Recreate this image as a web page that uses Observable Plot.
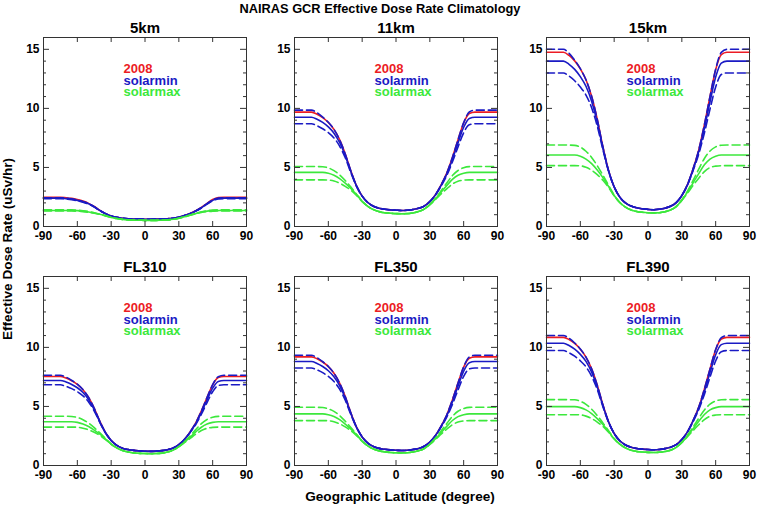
<!DOCTYPE html>
<html><head><meta charset="utf-8">
<script src="https://cdn.jsdelivr.net/npm/d3@7"></script>
<script src="https://cdn.jsdelivr.net/npm/@observablehq/plot@0.6"></script>
<style>
body{margin:0;background:#fff;}
#wrap{position:relative;width:757px;height:507px;overflow:hidden;font-family:"Liberation Sans",Arial,Helvetica,sans-serif;font-weight:bold;color:#000;background:#fff;}
.pan{position:absolute;}
#title{position:absolute;left:0;width:760px;top:1px;line-height:16px;text-align:center;font-size:12.8px;z-index:5;}
#xlab{position:absolute;left:250px;width:300px;top:489px;line-height:16px;text-align:center;font-size:13.6px;z-index:5;}
#ylab{position:absolute;left:-102px;top:241px;width:220px;height:16px;line-height:16px;text-align:center;font-size:13.6px;transform:rotate(-90deg);z-index:5;white-space:nowrap;}
</style></head>
<body>
<div id="wrap">
  <div id="title">NAIRAS GCR Effective Dose Rate Climatology</div>
  <div id="ylab">Effective Dose Rate (uSv/hr)</div>
  <div id="xlab">Geographic Latitude (degree)</div>
</div>
<script>
const lat = [-90,-85,-80,-75,-70,-65,-60,-55,-50,-45,-40,-35,-30,-25,-20,-15,-10,-5,0,5,10,15,20,25,30,35,40,45,50,55,60,65,70,75,80,85,90];
const panelTitles = ["5km","11km","15km","FL310","FL350","FL390"];
const seriesNames = ["2008","solarmin","solarmax"];
const seriesColors = ["#ec1c24","#1a1ac4","#3ce83c"];
const xTicks = [-90,-60,-30,0,30,60,90];
const yTicks = [0,5,10,15];
const yMinorTicks = [1,2,3,4,6,7,8,9,11,12,13,14];

// 5km
const r5  = [2.48,2.48,2.48,2.48,2.44,2.38,2.28,2.15,1.96,1.69,1.36,1.09,0.89,0.77,0.70,0.66,0.64,0.63,0.62,0.62,0.63,0.64,0.66,0.70,0.79,0.92,1.10,1.33,1.62,1.96,2.28,2.45,2.48,2.48,2.48,2.48,2.48];
const bs5 = [2.40,2.40,2.40,2.40,2.36,2.30,2.21,2.09,1.92,1.66,1.35,1.09,0.89,0.77,0.70,0.66,0.64,0.63,0.62,0.62,0.63,0.64,0.66,0.70,0.79,0.92,1.09,1.31,1.59,1.91,2.21,2.37,2.40,2.40,2.40,2.40,2.40];
const bu5 = [2.44,2.44,2.44,2.44,2.40,2.34,2.24,2.12,1.94,1.68,1.35,1.09,0.89,0.77,0.70,0.66,0.64,0.63,0.62,0.62,0.63,0.64,0.66,0.70,0.79,0.92,1.10,1.32,1.61,1.94,2.25,2.41,2.44,2.44,2.44,2.44,2.44];
const bl5 = [2.36,2.36,2.36,2.36,2.32,2.26,2.17,2.06,1.89,1.65,1.34,1.09,0.89,0.77,0.70,0.66,0.64,0.63,0.62,0.62,0.63,0.64,0.66,0.70,0.79,0.92,1.09,1.31,1.57,1.89,2.18,2.33,2.36,2.36,2.36,2.36,2.36];
const gs5 = [1.36,1.36,1.36,1.36,1.36,1.36,1.34,1.30,1.23,1.14,1.03,0.91,0.77,0.67,0.60,0.56,0.54,0.53,0.52,0.52,0.52,0.54,0.56,0.61,0.70,0.82,0.96,1.09,1.22,1.30,1.34,1.36,1.36,1.36,1.36,1.36,1.36];
const gu5 = [1.41,1.41,1.41,1.41,1.41,1.41,1.39,1.34,1.26,1.16,1.04,0.92,0.77,0.67,0.60,0.56,0.54,0.53,0.52,0.52,0.52,0.54,0.56,0.61,0.70,0.83,0.97,1.11,1.25,1.34,1.39,1.41,1.41,1.41,1.41,1.41,1.41];
const gl5 = [1.31,1.31,1.31,1.31,1.31,1.31,1.30,1.26,1.20,1.12,1.02,0.90,0.77,0.67,0.60,0.56,0.54,0.53,0.52,0.52,0.52,0.54,0.56,0.61,0.70,0.81,0.95,1.07,1.19,1.26,1.29,1.31,1.31,1.31,1.31,1.31,1.31];

// 11km
const r11  = [9.68,9.68,9.68,9.68,9.51,9.22,8.81,8.22,7.35,6.14,4.69,3.44,2.57,2.03,1.72,1.55,1.46,1.41,1.38,1.36,1.38,1.44,1.54,1.73,2.11,2.69,3.52,4.52,5.85,7.35,8.76,9.56,9.68,9.68,9.68,9.68,9.68];
const bs11 = [9.25,9.25,9.25,9.25,9.08,8.81,8.43,7.90,7.11,6.00,4.63,3.42,2.57,2.03,1.72,1.55,1.46,1.41,1.38,1.36,1.38,1.44,1.54,1.73,2.11,2.68,3.48,4.43,5.68,7.08,8.40,9.15,9.25,9.25,9.25,9.25,9.25];
const bu11 = [9.85,9.85,9.85,9.85,9.63,9.26,8.82,8.22,7.35,6.14,4.69,3.44,2.57,2.03,1.72,1.55,1.46,1.41,1.38,1.36,1.38,1.44,1.54,1.73,2.11,2.69,3.52,4.52,5.85,7.35,8.79,9.69,9.85,9.85,9.85,9.85,9.85];
const bl11 = [8.70,8.70,8.70,8.70,8.53,8.28,7.95,7.50,6.81,5.82,4.55,3.40,2.57,2.03,1.72,1.55,1.46,1.41,1.38,1.36,1.38,1.44,1.54,1.73,2.11,2.66,3.43,4.32,5.46,6.74,7.94,8.62,8.70,8.70,8.70,8.70,8.70];
const gs11 = [4.58,4.58,4.58,4.58,4.58,4.58,4.51,4.34,4.06,3.67,3.22,2.69,2.13,1.71,1.43,1.26,1.16,1.12,1.09,1.08,1.09,1.15,1.26,1.47,1.85,2.34,2.90,3.46,3.99,4.34,4.51,4.58,4.58,4.58,4.58,4.58,4.58];
const gu11 = [5.08,5.08,5.08,5.08,5.07,5.06,4.96,4.73,4.37,3.89,3.34,2.74,2.15,1.71,1.43,1.26,1.16,1.12,1.09,1.08,1.09,1.15,1.26,1.47,1.87,2.39,3.02,3.68,4.31,4.74,4.98,5.07,5.08,5.08,5.08,5.08,5.08];
const gl11 = [3.95,3.95,3.95,3.95,3.95,3.95,3.93,3.85,3.67,3.40,3.07,2.63,2.11,1.71,1.43,1.26,1.16,1.12,1.09,1.08,1.09,1.15,1.26,1.47,1.83,2.28,2.75,3.19,3.59,3.84,3.92,3.95,3.95,3.95,3.95,3.95,3.95];

// 15km
const r15  = [14.75,14.75,14.75,14.75,14.48,14.02,13.35,12.42,11.02,9.08,6.75,4.75,3.35,2.49,1.99,1.73,1.58,1.50,1.45,1.42,1.46,1.55,1.71,2.02,2.62,3.55,4.89,6.49,8.62,11.02,13.28,14.55,14.75,14.75,14.75,14.75,14.75];
const bs15 = [14.00,14.00,14.00,14.00,13.73,13.30,12.69,11.87,10.61,8.83,6.65,4.72,3.35,2.49,1.99,1.73,1.58,1.50,1.45,1.42,1.46,1.55,1.71,2.02,2.62,3.53,4.82,6.34,8.32,10.56,12.65,13.83,14.00,14.00,14.00,14.00,14.00];
const bu15 = [15.00,15.00,15.00,15.00,14.66,14.08,13.36,12.42,11.02,9.08,6.75,4.75,3.35,2.49,1.99,1.73,1.58,1.50,1.45,1.42,1.46,1.55,1.71,2.02,2.62,3.55,4.89,6.49,8.62,11.02,13.32,14.74,15.00,15.00,15.00,15.00,15.00];
const bl15 = [13.00,13.00,13.00,13.00,12.73,12.34,11.81,11.13,10.06,8.50,6.51,4.68,3.35,2.49,1.99,1.73,1.58,1.50,1.45,1.42,1.46,1.55,1.71,2.02,2.62,3.50,4.73,6.14,7.92,9.94,11.81,12.87,13.00,13.00,13.00,13.00,13.00];
const gs15 = [6.05,6.05,6.05,6.05,6.05,6.05,5.95,5.71,5.32,4.78,4.14,3.40,2.62,2.03,1.64,1.40,1.27,1.20,1.16,1.15,1.17,1.25,1.40,1.69,2.23,2.91,3.70,4.48,5.22,5.71,5.95,6.05,6.05,6.05,6.05,6.05,6.05];
const gu15 = [6.90,6.90,6.90,6.90,6.89,6.87,6.72,6.37,5.85,5.15,4.34,3.49,2.65,2.03,1.64,1.40,1.27,1.20,1.16,1.15,1.17,1.25,1.40,1.69,2.26,3.00,3.90,4.85,5.76,6.39,6.74,6.88,6.90,6.90,6.90,6.90,6.90];
const gl15 = [5.15,5.15,5.15,5.15,5.15,5.15,5.14,5.01,4.76,4.39,3.92,3.31,2.59,2.03,1.64,1.40,1.27,1.20,1.16,1.15,1.17,1.25,1.40,1.69,2.20,2.82,3.48,4.09,4.65,4.99,5.11,5.15,5.15,5.15,5.15,5.15,5.15];

// FL310
const r310  = [7.53,7.53,7.53,7.53,7.40,7.18,6.87,6.42,5.76,4.84,3.73,2.78,2.12,1.71,1.47,1.35,1.28,1.24,1.21,1.20,1.22,1.26,1.34,1.48,1.77,2.21,2.85,3.61,4.62,5.76,6.83,7.44,7.53,7.53,7.53,7.53,7.53];
const bs310 = [7.20,7.20,7.20,7.20,7.07,6.86,6.58,6.18,5.58,4.73,3.68,2.77,2.12,1.71,1.47,1.35,1.28,1.24,1.21,1.20,1.22,1.26,1.34,1.48,1.77,2.20,2.82,3.54,4.49,5.56,6.55,7.12,7.20,7.20,7.20,7.20,7.20];
const bu310 = [7.64,7.64,7.64,7.64,7.48,7.21,6.88,6.42,5.76,4.84,3.73,2.78,2.12,1.71,1.47,1.35,1.28,1.24,1.21,1.20,1.22,1.26,1.34,1.48,1.77,2.21,2.85,3.61,4.62,5.76,6.85,7.52,7.64,7.64,7.64,7.64,7.64];
const bl310 = [6.83,6.83,6.83,6.83,6.70,6.51,6.25,5.90,5.38,4.61,3.63,2.75,2.12,1.71,1.47,1.35,1.28,1.24,1.21,1.20,1.22,1.26,1.34,1.48,1.77,2.19,2.79,3.47,4.34,5.33,6.24,6.77,6.83,6.83,6.83,6.83,6.83];
const gs310 = [3.70,3.70,3.70,3.70,3.70,3.70,3.65,3.51,3.30,3.00,2.65,2.24,1.81,1.49,1.27,1.14,1.06,1.03,1.01,1.00,1.01,1.05,1.14,1.30,1.59,1.97,2.40,2.84,3.24,3.51,3.65,3.70,3.70,3.70,3.70,3.70,3.70];
const gu310 = [4.17,4.17,4.17,4.17,4.17,4.15,4.07,3.88,3.59,3.20,2.76,2.29,1.82,1.49,1.27,1.14,1.06,1.03,1.01,1.00,1.01,1.05,1.14,1.30,1.60,2.02,2.51,3.04,3.54,3.89,4.09,4.16,4.17,4.17,4.17,4.17,4.17];
const gl310 = [3.25,3.25,3.25,3.25,3.25,3.25,3.24,3.16,3.02,2.81,2.54,2.20,1.80,1.49,1.27,1.14,1.06,1.03,1.01,1.00,1.01,1.05,1.14,1.30,1.58,1.93,2.29,2.65,2.96,3.15,3.23,3.25,3.25,3.25,3.25,3.25,3.25];

// FL350
const r350  = [9.20,9.20,9.20,9.20,9.04,8.76,8.37,7.81,6.98,5.83,4.44,3.25,2.42,1.90,1.61,1.45,1.37,1.32,1.29,1.27,1.29,1.35,1.44,1.63,1.98,2.54,3.33,4.28,5.55,6.98,8.33,9.08,9.20,9.20,9.20,9.20,9.20];
const bs350 = [8.80,8.80,8.80,8.80,8.64,8.38,8.02,7.51,6.76,5.70,4.38,3.23,2.42,1.90,1.61,1.45,1.37,1.32,1.29,1.27,1.29,1.35,1.44,1.63,1.98,2.53,3.29,4.20,5.39,6.73,7.99,8.70,8.80,8.80,8.80,8.80,8.80];
const bu350 = [9.33,9.33,9.33,9.33,9.13,8.79,8.38,7.81,6.98,5.83,4.44,3.25,2.42,1.90,1.61,1.45,1.37,1.32,1.29,1.27,1.29,1.35,1.44,1.63,1.98,2.54,3.33,4.28,5.55,6.98,8.35,9.18,9.33,9.33,9.33,9.33,9.33];
const bl350 = [8.26,8.26,8.26,8.26,8.10,7.86,7.54,7.11,6.46,5.52,4.31,3.21,2.42,1.90,1.61,1.45,1.37,1.32,1.29,1.27,1.29,1.35,1.44,1.63,1.98,2.51,3.25,4.09,5.17,6.40,7.54,8.18,8.26,8.26,8.26,8.26,8.26];
const gs350 = [4.37,4.37,4.37,4.37,4.37,4.37,4.30,4.14,3.88,3.51,3.08,2.59,2.06,1.66,1.40,1.24,1.15,1.10,1.08,1.07,1.08,1.14,1.24,1.43,1.80,2.26,2.79,3.31,3.81,4.14,4.30,4.37,4.37,4.37,4.37,4.37,4.37];
const gu350 = [4.93,4.93,4.93,4.93,4.92,4.91,4.80,4.58,4.23,3.75,3.21,2.65,2.08,1.66,1.40,1.24,1.15,1.10,1.08,1.07,1.08,1.14,1.24,1.43,1.82,2.32,2.92,3.55,4.16,4.59,4.82,4.92,4.93,4.93,4.93,4.93,4.93];
const gl350 = [3.80,3.80,3.80,3.80,3.80,3.80,3.79,3.70,3.53,3.27,2.94,2.53,2.04,1.66,1.40,1.24,1.15,1.10,1.08,1.07,1.08,1.14,1.24,1.43,1.78,2.20,2.65,3.07,3.45,3.68,3.77,3.80,3.80,3.80,3.80,3.80,3.80];

// FL390
const r390  = [10.85,10.85,10.85,10.85,10.66,10.33,9.85,9.18,8.18,6.80,5.14,3.71,2.71,2.09,1.74,1.55,1.44,1.39,1.35,1.33,1.36,1.43,1.54,1.76,2.19,2.85,3.81,4.95,6.47,8.18,9.80,10.71,10.85,10.85,10.85,10.85,10.85];
const bs390 = [10.35,10.35,10.35,10.35,10.16,9.85,9.41,8.81,7.91,6.64,5.07,3.69,2.71,2.09,1.74,1.55,1.44,1.39,1.35,1.33,1.36,1.43,1.54,1.76,2.19,2.84,3.77,4.85,6.27,7.87,9.38,10.23,10.35,10.35,10.35,10.35,10.35];
const bu390 = [11.00,11.00,11.00,11.00,10.77,10.37,9.86,9.18,8.18,6.80,5.14,3.71,2.71,2.09,1.74,1.55,1.44,1.39,1.35,1.33,1.36,1.43,1.54,1.76,2.19,2.85,3.81,4.95,6.47,8.18,9.82,10.82,11.00,11.00,11.00,11.00,11.00];
const bl390 = [9.73,9.73,9.73,9.73,9.54,9.26,8.86,8.35,7.56,6.43,4.98,3.67,2.71,2.09,1.74,1.55,1.44,1.39,1.35,1.33,1.36,1.43,1.54,1.76,2.19,2.82,3.71,4.73,6.02,7.49,8.86,9.64,9.73,9.73,9.73,9.73,9.73];
const gs390 = [4.98,4.98,4.98,4.98,4.98,4.98,4.90,4.71,4.40,3.97,3.47,2.88,2.26,1.80,1.49,1.29,1.19,1.14,1.11,1.10,1.12,1.18,1.29,1.53,1.95,2.50,3.12,3.74,4.32,4.71,4.90,4.98,4.98,4.98,4.98,4.98,4.98];
const gu390 = [5.58,5.58,5.58,5.58,5.57,5.56,5.44,5.18,4.77,4.23,3.61,2.94,2.28,1.80,1.49,1.29,1.19,1.14,1.11,1.10,1.12,1.18,1.29,1.53,1.97,2.56,3.26,4.00,4.70,5.19,5.46,5.57,5.58,5.58,5.58,5.58,5.58];
const gl390 = [4.30,4.30,4.30,4.30,4.30,4.30,4.29,4.18,3.98,3.68,3.31,2.81,2.24,1.80,1.49,1.29,1.19,1.14,1.11,1.10,1.12,1.18,1.29,1.53,1.93,2.43,2.96,3.45,3.89,4.17,4.27,4.30,4.30,4.30,4.30,4.30,4.30];

const panelSeries = [
  [r5,bs5,bu5,bl5,gs5,gu5,gl5],
  [r11,bs11,bu11,bl11,gs11,gu11,gl11],
  [r15,bs15,bu15,bl15,gs15,gu15,gl15],
  [r310,bs310,bu310,bl310,gs310,gu310,gl310],
  [r350,bs350,bu350,bl350,gs350,gu350,gl350],
  [r390,bs390,bu390,bl390,gs390,gu390,gl390]
];
// which legend entry (colour) and dashing for each of the 7 curves
const curveColorIndex = [0,1,1,1,2,2,2];
const curveDashed = [false,false,true,true,false,true,true];

// layout
const frameLeft = [43, 294, 546];
const frameTop = [37, 276];
const W = 203, H = 189;
const ML = 30, MR = 6, MT = 30, MB = 20;
const fontFam = '"Liberation Sans", Arial, Helvetica, sans-serif';
const axisColor = "#333";

const wrap = document.getElementById("wrap");

panelTitles.forEach((title, p) => {
  const col = p % 3, row = Math.floor(p / 3);
  const curves = panelSeries[p];
  const lineMarks = curves.map((vals, k) => {
    const rows = lat.map((la, i) => ({lat: la, v: vals[i]}));
    return Plot.line(rows, {
      x: "lat", y: "v",
      stroke: seriesColors[curveColorIndex[k]],
      strokeWidth: 1.6,
      strokeDasharray: curveDashed[k] ? "8,4" : null,
      curve: "monotone-x"
    });
  });
  const legendMarks = seriesNames.map((name, i) => Plot.text([name], {
    frameAnchor: "top-left", dx: 80, dy: 31.3 + i * 11.7,
    text: d => d, fill: seriesColors[i], textAnchor: "start", lineAnchor: "middle",
    fontSize: 13, fontWeight: "bold"
  }));
  const inner = xTicks.slice(1, -1);
  const chart = Plot.plot({
    width: ML + W + MR, height: MT + H + MB,
    marginLeft: ML, marginRight: MR, marginTop: MT, marginBottom: MB,
    x: {domain: [-90, 90]},
    y: {domain: [0, 16]},
    style: {background: "transparent", fontFamily: fontFam, fontWeight: "bold", fontSize: "12px", overflow: "visible", color: "#000"},
    marks: [
      ...lineMarks,
      Plot.frame({stroke: axisColor, strokeWidth: 1}),
      Plot.tickX(inner, {x: d => d, insetTop: H - 5, stroke: axisColor}),
      Plot.tickX(inner, {x: d => d, insetBottom: H - 5, stroke: axisColor}),
      Plot.tickY(yTicks, {y: d => d, insetRight: W - 6, stroke: axisColor}),
      Plot.tickY(yTicks, {y: d => d, insetLeft: W - 6, stroke: axisColor}),
      Plot.tickY(yMinorTicks, {y: d => d, insetRight: W - 3, stroke: axisColor}),
      Plot.tickY(yMinorTicks, {y: d => d, insetLeft: W - 3, stroke: axisColor}),
      Plot.axisX({anchor: "bottom", ticks: xTicks, tickSize: 0, tickPadding: 5, label: null, tickFormat: d => String(d), fontSize: 12, fontWeight: "bold"}),
      Plot.axisY({anchor: "left", ticks: yTicks, tickSize: 0, tickPadding: 4, label: null, tickFormat: d => String(d), fontSize: 12, fontWeight: "bold"}),
      Plot.text([title], {frameAnchor: "top", dy: -5, lineAnchor: "bottom", text: d => d, fontSize: 15, fontWeight: "bold", fill: "#000"}),
      ...legendMarks
    ]
  });
  const holder = document.createElement("div");
  holder.className = "pan";
  holder.style.left = (frameLeft[col] - ML) + "px";
  holder.style.top = (frameTop[row] - MT) + "px";
  holder.appendChild(chart);
  wrap.appendChild(holder);
});
</script>
</body></html>
